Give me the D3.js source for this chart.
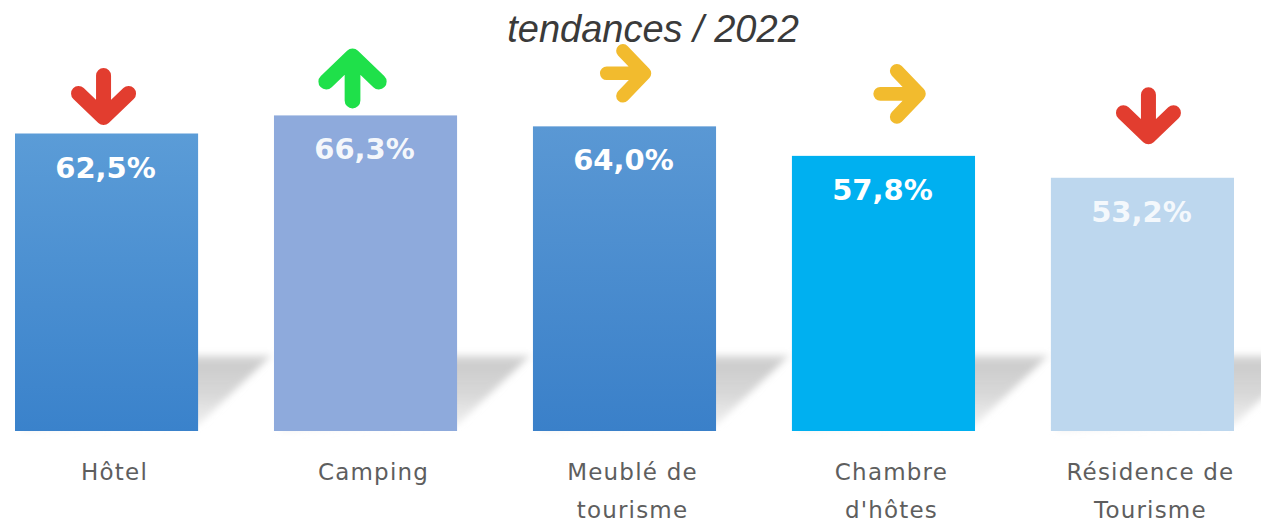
<!DOCTYPE html>
<html>
<head>
<meta charset="utf-8">
<script src="https://cdn.jsdelivr.net/npm/d3@7"></script>
<style>
  html, body { margin: 0; padding: 0; background: #ffffff; }
  svg { display: block; }
</style>
</head>
<body>
<svg id="chart" width="1261" height="525"></svg>
<script>
// ---- data ----
const title = "tendances / 2022";
const categories = ["Hôtel", "Camping", "Meublé de tourisme", "Chambre d'hôtes", "Résidence de Tourisme"];
const categoryLines = [["Hôtel"], ["Camping"], ["Meublé de", "tourisme"], ["Chambre", "d'hôtes"], ["Résidence de", "Tourisme"]];
const values = [62.5, 66.3, 64.0, 57.8, 53.2];
const valueLabels = ["62,5%", "66,3%", "64,0%", "57,8%", "53,2%"];
const trends = ["down", "up", "flat", "flat", "down"];

// ---- styles ----
const colorTop = ["#5b9cd7", "#8eaadc", "#5a98d4", "#00b0f0", "#bdd7ee"];
const colorBottom = ["#3a82cb", "#8eaadc", "#3a80c9", "#00b0f0", "#bdd7ee"];
const labelOpacity = [1, 0.92, 1, 1, 0.85];
const trendColor = { down: "#e23d2f", up: "#1fe04a", flat: "#f2bb2e" };
const arrowDx = [-3, -13, 2, 17, 6];
const arrowDy = [-36, -38, -53, -62, -61];
const arrowScale = [1, 1.05, 0.9, 0.92, 1];

const svg = d3.select("#chart");
const baseline = 431;

const x = d3.scaleBand().domain(categories).range([15, 1234]).paddingInner(0.293).paddingOuter(0);
const y = d3.scaleLinear().domain([0, 100]).range([baseline, baseline - 476]);

const defs = svg.append("defs");
categories.forEach((c, i) => {
  const g = defs.append("linearGradient").attr("id", "bg" + i).attr("x1", 0).attr("y1", 0).attr("x2", 0).attr("y2", 1);
  g.append("stop").attr("offset", "0%").attr("stop-color", colorTop[i]);
  g.append("stop").attr("offset", "100%").attr("stop-color", colorBottom[i]);
});
const sg = defs.append("linearGradient").attr("id", "shadowGrad")
  .attr("gradientUnits", "userSpaceOnUse").attr("x1", 0).attr("y1", 342).attr("x2", 0).attr("y2", baseline);
sg.append("stop").attr("offset", "0%").attr("stop-color", "#c6c6c6").attr("stop-opacity", 0);
sg.append("stop").attr("offset", "25%").attr("stop-color", "#c6c6c6").attr("stop-opacity", 0.9);
sg.append("stop").attr("offset", "60%").attr("stop-color", "#cfcfcf").attr("stop-opacity", 0.8);
sg.append("stop").attr("offset", "100%").attr("stop-color", "#e6e6e6").attr("stop-opacity", 0.5);
defs.append("filter").attr("id", "blur").attr("x", "-20%").attr("y", "-20%").attr("width", "140%").attr("height", "140%")
  .append("feGaussianBlur").attr("stdDeviation", 3.5);

// shadows
const sdx = 74, sdy = 76;
svg.append("g").selectAll("path").data(categories).join("path")
  .attr("d", c => {
    const x0 = x(c) + 4, x1 = x(c) + x.bandwidth();
    return `M${x0},${baseline} L${x1},${baseline - 6} L${x1 + sdx},${baseline - sdy} L${x0 + sdx},${baseline - sdy} Z`;
  })
  .attr("fill", "url(#shadowGrad)")
  .attr("filter", "url(#blur)");

// bars
svg.append("g").selectAll("rect").data(values).join("rect")
  .attr("x", (d, i) => x(categories[i]))
  .attr("y", d => y(d))
  .attr("width", x.bandwidth())
  .attr("height", d => baseline - y(d))
  .attr("fill", (d, i) => `url(#bg${i})`);

// value labels
svg.append("g").selectAll("text").data(values).join("text")
  .attr("x", (d, i) => x(categories[i]) + x.bandwidth() / 2 - 1)
  .attr("y", d => y(d) + 44)
  .attr("text-anchor", "middle")
  .attr("font-family", "DejaVu Sans, sans-serif")
  .attr("font-weight", "bold")
  .attr("font-size", 29)
  .attr("fill", "#ffffff")
  .attr("fill-opacity", (d, i) => labelOpacity[i])
  .text((d, i) => valueLabels[i]);

// trend arrows
const rot = { down: 0, up: 180, flat: -90 };
const ag = svg.append("g").selectAll("g").data(trends).join("g")
  .attr("transform", (t, i) => {
    const cx = x(categories[i]) + x.bandwidth() / 2 + arrowDx[i];
    const cy = y(values[i]) + arrowDy[i];
    return `translate(${cx},${cy}) scale(${arrowScale[i]}) rotate(${rot[t]})`;
  });
ag.append("path")
  .attr("d", "M0,-22 L0,18 M-25,-4 L0,20 L25,-4")
  .attr("fill", "none")
  .attr("stroke", t => trendColor[t])
  .attr("stroke-width", 15)
  .attr("stroke-linecap", "round")
  .attr("stroke-linejoin", "round");

// category labels
const cl = svg.append("g").selectAll("text").data(categoryLines).join("text")
  .attr("x", (d, i) => x(categories[i]) + x.bandwidth() / 2 + 8)
  .attr("y", 480)
  .attr("text-anchor", "middle")
  .attr("font-family", "DejaVu Sans, sans-serif")
  .attr("font-size", 23)
  .attr("letter-spacing", 1.2)
  .attr("fill", "#5e5e5e");
cl.selectAll("tspan").data(d => d).join("tspan")
  .attr("x", function () { return d3.select(this.parentNode).attr("x"); })
  .attr("dy", (d, j) => j === 0 ? 0 : 38)
  .text(d => d);

// title
svg.append("text")
  .attr("x", 653).attr("y", 42)
  .attr("text-anchor", "middle")
  .attr("font-family", "Liberation Sans, Arial, sans-serif")
  .attr("font-style", "italic")
  .attr("font-size", 38)
  .attr("fill", "#3a3a3a")
  .text(title);
</script>
</body>
</html>
